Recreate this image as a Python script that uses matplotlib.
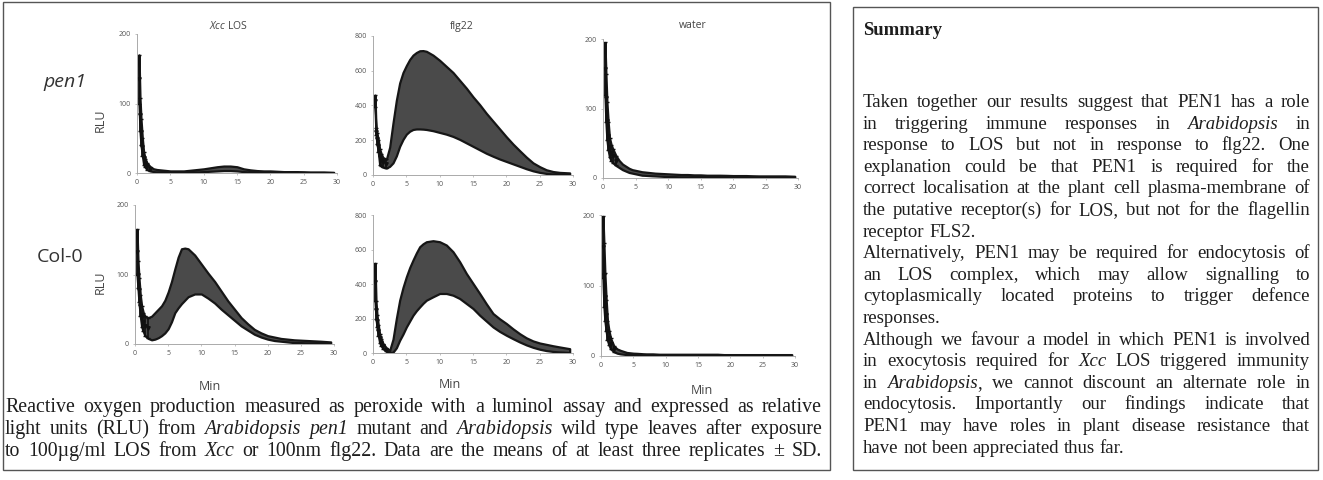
import matplotlib
matplotlib.use('Agg')
import matplotlib.pyplot as plt
from matplotlib.patches import Rectangle

# time points (min) shared by all panels
minutes = [0.3, 0.45, 0.6, 0.8, 1.0, 1.25, 1.5, 2, 2.5, 3, 3.5, 4, 4.5, 5, 5.5, 6, 6.5, 7, 7.5, 8,
           9, 10, 11, 12, 13, 14, 15, 16, 17, 18, 19, 20, 21, 22, 23, 24, 25, 26, 27, 28, 29.5]

# mean - SD / mean + SD
pen1_xcc_lo = [100, 60, 40, 25, 12, 8, 5, 3, 2, 1.5, 1.2, 1, 1, 1, 1, 1, 1, 1, 1, 1,
               1.5, 2, 2.5, 3, 3.5, 3.5, 3, 2, 1.5, 1, 1, 1, 0.8, 0.5, 0.5, 0.5, 0.5, 0.5, 0.3, 0, 0]
pen1_xcc_hi = [170, 108, 78, 50, 30, 20, 14, 9, 6, 5, 4.5, 4, 3.5, 3, 3, 3, 3, 3, 3.5, 4,
               5, 6, 7.5, 9, 10, 10, 9, 6, 4.5, 3.5, 3, 3, 2.5, 2, 2, 2, 1.8, 1.5, 1.5, 1.5, 1]

pen1_flg_lo = [390, 230, 180, 130, 60, 50, 45, 40, 50, 70, 110, 165, 205, 235, 252, 262, 265, 265, 264, 262,
               255, 245, 235, 222, 205, 185, 165, 145, 125, 108, 92, 78, 64, 50, 36, 24, 15, 9, 6, 5, 4]
pen1_flg_hi = [460, 270, 240, 200, 150, 120, 100, 90, 160, 300, 430, 530, 590, 630, 665, 690, 705, 715, 716, 712,
               690, 660, 625, 590, 545, 500, 450, 405, 355, 310, 265, 220, 178, 140, 103, 70, 48, 30, 20, 15, 12]

pen1_wat_lo = [120, 80, 55, 40, 30, 25, 22, 18, 15, 12, 10, 8, 7, 6, 5, 4, 3.8, 3.5, 3.2, 3,
               2.5, 2, 2, 1.5, 1.5, 1.5, 1.5, 1, 1, 1, 1, 1, 1, 1, 1, 0.5, 0.5, 0.5, 0.5, 0.5, 0.5]
pen1_wat_hi = [195, 150, 110, 80, 58, 48, 42, 32, 25, 20, 17, 14, 12, 11, 10, 9, 8.5, 8, 7.5, 7,
               6.5, 6, 5.5, 5, 5, 4.5, 4.5, 4, 4, 4, 3.8, 3.5, 3.5, 3.5, 3.2, 3, 3, 3, 3, 3, 2.5]

col_xcc_lo = [100, 80, 60, 40, 25, 18, 12, 8, 6, 7, 9, 12, 16, 22, 32, 45, 52, 58, 63, 68,
              72, 72, 66, 59, 50, 42, 34, 26, 20, 14, 10, 7, 5, 4, 3, 2, 2, 1.5, 1.2, 1, 1]
col_xcc_hi = [165, 120, 95, 70, 55, 45, 40, 38, 40, 45, 50, 55, 63, 75, 90, 108, 125, 137, 138, 137,
              128, 115, 102, 90, 76, 62, 50, 38, 29, 21, 16, 12, 10, 8, 7, 6, 5.5, 5, 4.5, 4, 3]

col_flg_lo = [300, 200, 150, 100, 60, 40, 25, 10, 3, 5, 30, 74, 110, 151, 185, 219, 245, 267, 288, 306,
              326, 345, 345, 335, 316, 287, 258, 219, 185, 151, 125, 103, 83, 64, 47, 33, 22, 14, 9, 6, 3]
col_flg_hi = [520, 300, 220, 160, 110, 80, 55, 30, 15, 80, 200, 306, 380, 442, 495, 539, 580, 616, 633, 645,
              651, 645, 626, 587, 529, 461, 403, 345, 285, 229, 198, 171, 140, 112, 88, 70, 58, 50, 42, 35, 25]

col_wat_lo = [110, 70, 50, 35, 22, 15, 10, 6, 4, 3, 2.5, 2, 1.8, 1.5, 1.2, 1, 1, 1, 1, 1,
              0.5, 0.5, 0.5, 0.5, 0.5, 0.5, 0.5, 0.5, 0.5, 0.5, 0.5, 0.5, 0.5, 0.5, 0.5, 0.5, 0.5, 0.5, 0.5, 0.5, 0.5]
col_wat_hi = [198, 160, 118, 80, 50, 35, 25, 14, 10, 8, 6.5, 5, 4.5, 4, 3.8, 3.5, 3.2, 3, 3, 3,
              2.5, 2.5, 2.5, 2.5, 2.5, 2.5, 2.5, 2.5, 2.5, 2.5, 2, 2, 2, 2, 2, 2, 2, 2, 2, 2, 2]

titles = [r"$\mathit{Xcc}$ LOS", "flg22", "water"]
rows = ["pen1", "Col-0"]

summary = [
    ("Taken together our results suggest that PEN1 has a role", True),
    ("in triggering immune responses in *Arabidopsis* in", True),
    ("response to LOS but not in response to flg22. One", True),
    ("explanation could be that PEN1 is required for the", True),
    ("correct localisation at the plant cell plasma-membrane of", True),
    ("the putative receptor(s) for LOS, but not for the flagellin", True),
    ("receptor FLS2.", False),
    ("Alternatively, PEN1 may be required for endocytosis of", True),
    ("an LOS complex, which may allow signalling to", True),
    ("cytoplasmically located proteins to trigger defence", True),
    ("responses.", False),
    ("Although we favour a model in which PEN1 is involved", True),
    ("in exocytosis required for *Xcc* LOS triggered immunity", True),
    ("in *Arabidopsis*, we cannot discount an alternate role in", True),
    ("endocytosis. Importantly our findings indicate that", True),
    ("PEN1 may have roles in plant disease resistance that", True),
    ("have not been appreciated thus far.", False),
]

caption = [
    "Reactive oxygen production measured as peroxide with a luminol assay and expressed as relative",
    "light units (RLU) from *Arabidopsis* *pen1* mutant and *Arabidopsis* wild type leaves after exposure",
    "to 100µg/ml LOS from *Xcc* or 100nm flg22. Data are the means of at least three replicates ± SD.",
]

plt.rcParams['mathtext.fontset'] = 'custom'
plt.rcParams['mathtext.rm'] = 'Open Sans'
plt.rcParams['mathtext.it'] = 'Open Sans:italic'

W, H = 1323, 480
fig = plt.figure(figsize=(W / 100, H / 100), dpi=100)
fig.patch.set_facecolor('white')
renderer = fig.canvas.get_renderer()
ink = '#1e1e1e'


def fx(x):
    return x / W


def fy(y):
    return 1 - y / H


# panel boxes in pixels: left, top, right, bottom
boxes = [
    [(137, 34, 337, 173), (373, 36, 573, 175), (603, 39, 798, 178)],
    [(135, 205, 334, 344), (373, 215, 573, 353), (601, 215, 795, 356)],
]
data = [
    [(pen1_xcc_lo, pen1_xcc_hi, 200), (pen1_flg_lo, pen1_flg_hi, 800), (pen1_wat_lo, pen1_wat_hi, 200)],
    [(col_xcc_lo, col_xcc_hi, 200), (col_flg_lo, col_flg_hi, 800), (col_wat_lo, col_wat_hi, 200)],
]

for r in range(2):
    for c in range(3):
        l, t, rr, b = boxes[r][c]
        ax = fig.add_axes([fx(l), fy(b), (rr - l) / W, (b - t) / H])
        lo, hi, top = data[r][c]
        ax.fill_between(minutes, lo, hi, facecolor='#4a4a4a', edgecolor='#161616', lw=1.6)
        early = [i for i, m in enumerate(minutes) if m <= 2]
        mid = [(lo[i] + hi[i]) / 2 for i in early]
        err = [(hi[i] - lo[i]) / 2 for i in early]
        ax.errorbar([minutes[i] for i in early], mid, yerr=err, fmt='v', ms=2.5,
                    color='#111111', elinewidth=1.2, capsize=1.5)
        ax.set_xlim(0, 30)
        ax.set_ylim(0, top)
        ax.set_xticks(range(0, 31, 5))
        ax.set_yticks(range(0, top + 1, top // (2 if top == 200 else 4)))
        for s in ['top', 'right']:
            ax.spines[s].set_visible(False)
        for s in ['left', 'bottom']:
            ax.spines[s].set_color('#aaaaaa')
            ax.spines[s].set_linewidth(0.7)
        ax.tick_params(length=1.5, width=0.5, color='#aaaaaa', labelsize=5,
                       labelcolor='#555555', pad=3)
        for lab in ax.get_xticklabels() + ax.get_yticklabels():
            lab.set_family('Open Sans')

title_x = [228, 462, 693]
for c in range(3):
    fig.text(fx(title_x[c]), fy(26), titles[c], fontsize=7.5, family='Open Sans',
             color='#444444', ha='center', va='center')

fig.text(fx(65), fy(82), rows[0], fontsize=14, family='Open Sans', style='italic',
         color='#333333', ha='center', va='center')
fig.text(fx(60), fy(257), rows[1], fontsize=14, family='Open Sans',
         color='#333333', ha='center', va='center')
for yy in [120, 282]:
    fig.text(fx(100), fy(yy), "RLU", fontsize=9, family='Open Sans', rotation=90,
             color='#444444', ha='center', va='center')
for xx, yy in [(210, 387), (450, 385), (702, 390)]:
    fig.text(fx(xx), fy(yy), "Min", fontsize=9, family='Open Sans',
             color='#444444', ha='center', va='center')


def put_line(line, x0, x1, y, size, justify, bold=False):
    words = line.split(' ')
    rows_ = []
    widths = []
    for w in words:
        pcs = []
        if w.startswith('*'):
            e = w.index('*', 1)
            pcs.append((w[1:e], True))
            if w[e + 1:]:
                pcs.append((w[e + 1:], False))
        else:
            pcs.append((w, False))
        row = []
        tot = 0
        for s, it in pcs:
            t = fig.text(0, fy(y), s, fontsize=size, family='Liberation Serif',
                         style='italic' if it else 'normal',
                         weight='bold' if bold else 'normal',
                         va='baseline', ha='left', color=ink)
            wd = t.get_window_extent(renderer).width
            row.append((t, wd))
            tot += wd
        rows_.append(row)
        widths.append(tot)
    if justify and len(words) > 1:
        gap = (x1 - x0 - sum(widths)) / (len(words) - 1)
    else:
        gap = size * 0.25 * 100 / 72
    x = x0
    for row in rows_:
        for t, wd in row:
            t.set_x(fx(x))
            x += wd
        x += gap


# summary box
put_line("Summary", 863, 1310, 35, 13.5, False, bold=True)
for i, (line, j) in enumerate(summary):
    put_line(line, 863, 1310, 107 + i * 21.6, 13.5, j)

# caption
for i, line in enumerate(caption):
    put_line(line, 5, 822, 412 + i * 22, 14.3, True)

fig.patches.append(Rectangle((fx(3), fy(470)), (830 - 3) / W, (470 - 2) / H,
                             transform=fig.transFigure, fill=False,
                             edgecolor='#555555', lw=1.0))
fig.patches.append(Rectangle((fx(853), fy(470)), (1318 - 853) / W, (470 - 7) / H,
                             transform=fig.transFigure, fill=False,
                             edgecolor='#555555', lw=1.0))

fig.savefig('out.png', dpi=100)
